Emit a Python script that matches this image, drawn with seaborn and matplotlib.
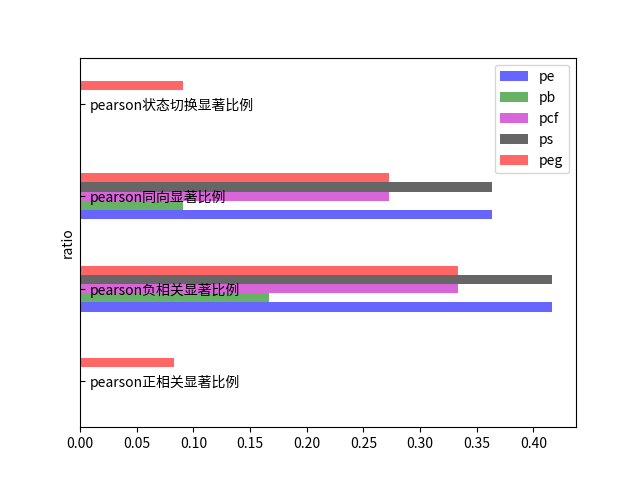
import matplotlib
matplotlib.use("Agg")
import matplotlib.pyplot as plt
import seaborn as sns
import pandas as pd

categories = ["pearson正相关显著比例", "pearson负相关显著比例", "pearson同向显著比例", "pearson状态切换显著比例"]
series_names = ["pe", "pb", "pcf", "ps", "peg"]
pe = [0.0, 0.4167, 0.3636, 0.0]
pb = [0.0, 0.1667, 0.0909, 0.0]
pcf = [0.0, 0.3333, 0.2727, 0.0]
ps = [0.0, 0.4167, 0.3636, 0.0]
peg = [0.0833, 0.3333, 0.2727, 0.0909]
colors = ["#6666ff", "#66b366", "#d966d9", "#666666", "#ff6666"]

plt.rcParams["font.family"] = ["Noto Sans CJK SC", "DejaVu Sans"]
plt.rcParams["axes.unicode_minus"] = False

rows = []
for name, vals in zip(series_names, [pe, pb, pcf, ps, peg]):
    for cat, v in zip(categories, vals):
        rows.append({"category": cat, "series": name, "value": v})
df = pd.DataFrame(rows)

fig, ax = plt.subplots(figsize=(6.4, 4.8), dpi=100)
sns.barplot(data=df, y="category", x="value", hue="series", order=categories,
            hue_order=series_names, palette=colors, orient="h", width=0.5,
            saturation=1, ax=ax, errorbar=None)
ax.invert_yaxis()
ax.set_ylim(-0.5, 3.5)
ax.set_xlim(0, 0.4375)
ax.set_xlabel("")
ax.set_ylabel("ratio")
ax.tick_params(axis="y", direction="in", pad=-7.2)
plt.setp(ax.get_yticklabels(), ha="left")
h, l = ax.get_legend_handles_labels()
ax.legend(h, l, loc="upper right")
fig.savefig("out.png", dpi=100)
